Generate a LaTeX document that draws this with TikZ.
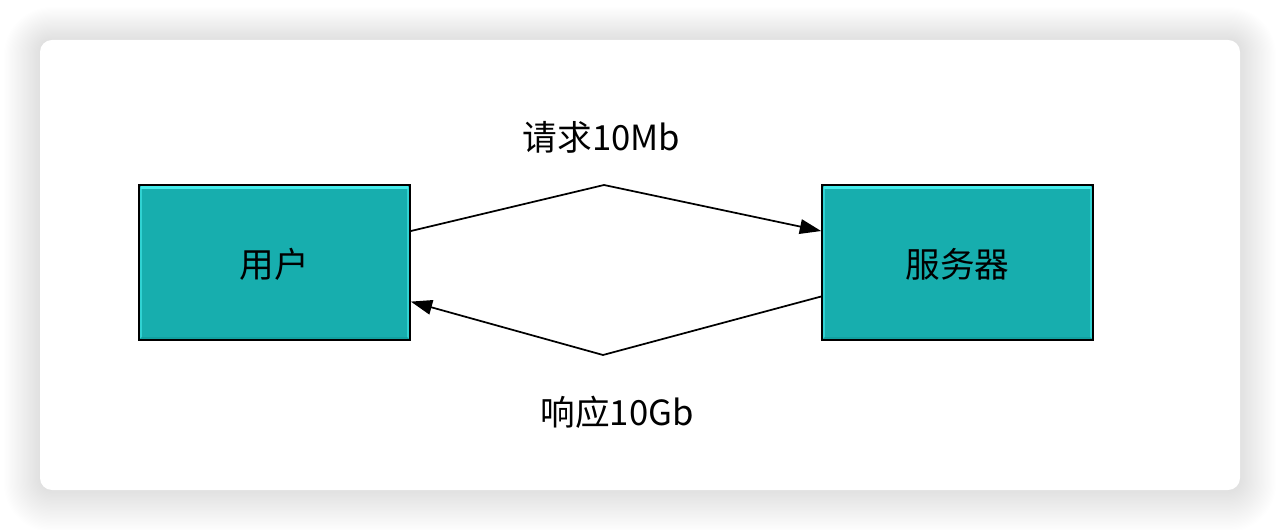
\documentclass[tikz,border=0pt]{standalone}
\usepackage{fontspec}
\newfontfamily\cjk{Noto Sans CJK SC}
\usetikzlibrary{arrows.meta,calc}
\definecolor{teal1}{HTML}{17AEAE}
\definecolor{tealhi}{HTML}{45ECEC}
\definecolor{tealsd}{HTML}{30D2D2}
\definecolor{tealdk}{HTML}{0F9696}
\tikzset{
  entity/.style={draw=black, line width=1.5pt, fill=teal1, minimum width=203pt, minimum height=116pt, inner sep=0pt, font=\cjk\fontsize{26}{30}\selectfont},
  lbl/.style={font=\cjk\fontsize{26}{30}\selectfont, inner sep=0pt},
  flow/.style={line width=1.3pt, line join=miter, -{Triangle[length=16pt,width=11pt]}},
}
\begin{document}
\begin{tikzpicture}[x=0.75pt,y=-0.75pt]
\useasboundingbox (0,0) rectangle (1280,530);
\fill[white] (0,0) rectangle (1280,530);
% shadow of the card
\foreach \i in {1,...,30}{
  \fill[black, opacity=0.0045, rounded corners={(12+\i*1.2)*0.75pt}] ({40-\i*1.2},{40-\i*1.1}) rectangle ({1240+\i*1.2},{490+\i*1.4});
}
\fill[white, rounded corners=9pt] (40,40) rectangle (1240,490);

\node[entity] (u) at (274.5,262.5) {};
\node[entity] (s) at (957.5,262.5) {};
% bevel highlights
\foreach \n in {u,s}{
  \draw[tealsd, line width=1.5pt] ($( \n.north west)+(2.5,3)$) -- ($( \n.south west)+(2.5,-3)$);
  \draw[tealsd, line width=1.5pt] ($( \n.north east)+(-2.5,3)$) -- ($( \n.south east)+(-2.5,-3)$);
  \draw[tealdk, line width=1.5pt, opacity=0.5] ($( \n.south west)+(3,-2.5)$) -- ($( \n.south east)+(-3,-2.5)$);
  \draw[tealhi, line width=2.2pt] ($( \n.north west)+(2.5,3)$) -- ($( \n.north east)+(-2.5,3)$);
}
\node[lbl] (ut) at (274.5,264) {用户};
\node[lbl] (st) at (957.5,264) {服务器};

\coordinate (top) at (604,185);
\coordinate (bot) at (603,355);
\draw[flow] (u.13.1) -- (top) -- (s.167.7);
\draw[flow] (s.194.7) -- (bot) -- (u.-16.3);

\node[lbl] (req) at (601.5,137) {请求10Mb};
\node[lbl] (res) at (617,412) {响应10Gb};
\end{tikzpicture}
\end{document}
